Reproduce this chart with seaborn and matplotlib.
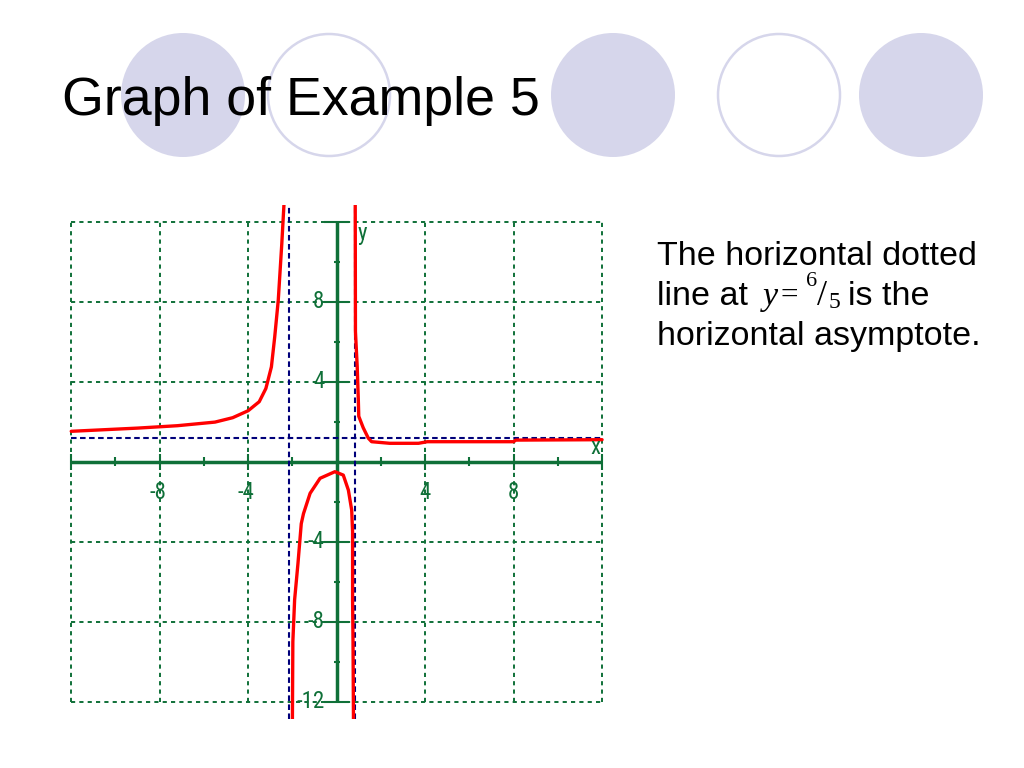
import matplotlib
matplotlib.use("Agg")
import matplotlib.pyplot as plt
import seaborn as sns
from matplotlib import font_manager
from matplotlib.patches import Circle

# curve branches (x, y in graph units)
left_x = [-12, -9.0, -7.2, -5.5, -4.7, -4.0, -3.5, -3.2, -2.95, -2.8, -2.64, -2.48, -2.38]
left_y = [1.52, 1.68, 1.8, 1.98, 2.2, 2.55, 3.0, 3.66, 4.74, 6.24, 8.07, 10.9, 12.9]

mid_x = [-2.0, -1.98, -1.9, -1.75, -1.6, -1.5, -1.2, -0.75, -0.08, 0.3, 0.53, 0.68, 0.72, 0.72, 0.74, 0.76]
mid_y = [-12.9, -9.0, -6.9, -5.1, -3.1, -2.6, -1.58, -0.83, -0.5, -0.67, -1.42, -2.42, -3.5, -6.9, -9.0, -12.9]

right_x = [0.84, 0.85, 0.93, 0.98, 1.0, 1.2, 1.43, 1.58, 2.4, 3.7, 4.1, 8.0, 8.1, 12]
right_y = [12.9, 6.5, 4.74, 3.08, 2.27, 1.7, 1.18, 1.0, 0.92, 0.92, 1.0, 1.0, 1.08, 1.1]

vert_asymptotes = [-2.15, 0.83]
horiz_asymptote = 6 / 5

grid_ticks = [-12, -8, -4, 4, 8, 12]
minor_ticks = [-10, -6, -2, 2, 6, 10]
x_label_pos = [-8, -4, 4, 8]
x_label_text = ['-8', '-4', '4', '8']
y_label_pos = [8, 4, -4, -8, -12]
y_label_text = ['8', '4', '-4', '-8', '-12']

# decorative slide circles (pixel centres), filled or outlined
circle_x = [183, 329, 613, 779, 921]
circle_filled = [True, False, True, False, True]

GREEN = '#0f7038'
NAVY = '#00007a'
RED = '#ff0000'
LAVENDER = '#d6d6eb'

sns.set_style("white")
plt.rcParams['font.family'] = ['Liberation Sans', 'DejaVu Sans']
plt.rcParams['text.color'] = 'black'
plt.rcParams['lines.scale_dashes'] = False

installed = {f.name for f in font_manager.fontManager.ttflist}
label_font = 'DejaVu Sans Mono'
label_size = 15
for name in ['Liberation Sans Narrow', 'Roboto Condensed']:
    if name in installed:
        label_font, label_size = name, 16.5
        break

fig = plt.figure(figsize=(10.24, 7.68), dpi=100)

# background layer in pixel units
bg = fig.add_axes([0, 0, 1, 1])
bg.set_xlim(0, 1024)
bg.set_ylim(768, 0)
bg.axis('off')
for cx, filled in zip(circle_x, circle_filled):
    if filled:
        bg.add_patch(Circle((cx, 95), 62, facecolor=LAVENDER, edgecolor='none'))
    else:
        bg.add_patch(Circle((cx, 95), 61, facecolor='none', edgecolor=LAVENDER, lw=1.8))

# graph
ax = fig.add_axes([66.8 / 1024, (768 - 718.7) / 768, 539.7 / 1024, 514 / 768])
ax.set_xlim(-12.2, 12.2)
ax.set_ylim(-12.85, 12.85)
ax.axis('off')

dash = (0, (3, 3))
ax.vlines(grid_ticks, -12, 12, colors=GREEN, linestyles=dash, lw=1.4)
ax.hlines(grid_ticks, -12, 12, colors=GREEN, linestyles=dash, lw=1.4)
ax.hlines(0, -12, 12, colors=GREEN, lw=2.5)
ax.vlines(0, -12, 12, colors=GREEN, lw=2.5)
ax.vlines(grid_ticks, -0.4, 0.4, colors=GREEN, lw=1.5)
ax.hlines(grid_ticks, -0.55, 0.55, colors=GREEN, lw=1.5)
ax.vlines(minor_ticks, -0.22, 0.22, colors=GREEN, lw=1.5)
ax.hlines(minor_ticks, -0.14, 0.14, colors=GREEN, lw=1.5)

for pos, txt in zip(x_label_pos, x_label_text):
    if txt.startswith('-'):
        ax.text(pos + 0.28, -1.55, txt, ha='right', va='center', color=GREEN,
                family=label_font, fontsize=label_size)
    else:
        ax.text(pos, -1.55, txt, ha='center', va='center', color=GREEN,
                family=label_font, fontsize=label_size)
for pos, txt in zip(y_label_pos, y_label_text):
    ax.text(-0.55, pos, txt, ha='right', va='center', color=GREEN,
            family=label_font, fontsize=label_size)
ax.text(0.95, 12.0, 'y', ha='left', va='top', color=GREEN, family=label_font, fontsize=label_size)
ax.text(11.7, 0.7, 'x', ha='center', va='center', color=GREEN, family=label_font, fontsize=label_size)

# asymptotes
ax.vlines(vert_asymptotes, -12.85, 12.85, colors=NAVY, linestyles=(0, (4, 2.5)), lw=1.5)
ax.hlines(horiz_asymptote, -12, 12, colors=NAVY, linestyles=(0, (4, 2.5)), lw=1.5)

# curve
for xs, ys in [(left_x, left_y), (mid_x, mid_y), (right_x, right_y)]:
    sns.lineplot(x=xs, y=ys, sort=False, estimator=None, color=RED, lw=2.4, ax=ax)

# slide text
def px(x, y):
    return x / 1024, 1 - y / 768

fig.text(*px(62, 115), 'Graph of Example 5', fontsize=38.7, va='baseline', ha='left')
fig.text(*px(657, 265), 'The horizontal dotted', fontsize=24.5, va='baseline', ha='left')
fig.text(*px(657, 305), 'line at', fontsize=24.5, va='baseline', ha='left')
fig.text(*px(763, 305), 'y', fontsize=24.5, style='italic', family='Liberation Serif', va='baseline', ha='left')
fig.text(*px(781, 304), '=', fontsize=22.5, family='Liberation Serif', va='baseline', ha='left')
fig.text(*px(806, 286), '6', fontsize=16, family='Liberation Serif', va='baseline', ha='left')
fig.text(*px(817, 305), '/', fontsize=26, family='Liberation Serif', va='baseline', ha='left')
fig.text(*px(829, 308), '5', fontsize=17, family='Liberation Serif', va='baseline', ha='left')
fig.text(*px(848, 305), 'is the', fontsize=24.5, va='baseline', ha='left')
fig.text(*px(657, 345), 'horizontal asymptote.', fontsize=24.5, va='baseline', ha='left')

fig.savefig('out.png', dpi=100)
